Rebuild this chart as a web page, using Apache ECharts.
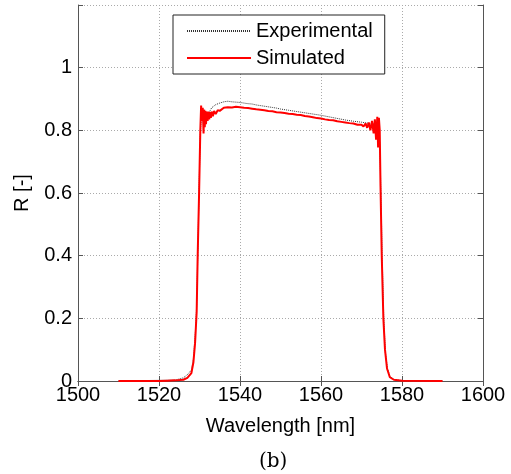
<!DOCTYPE html>
<html><head><meta charset="utf-8">
<script src="https://cdn.jsdelivr.net/npm/echarts@6/dist/echarts.min.js"></script>
<style>html,body{margin:0;padding:0;background:#fff}#c{width:511px;height:474px}</style>
</head><body><div id="c"></div>
<script>
var xTicks = [1500, 1520, 1540, 1560, 1580, 1600];
var yTicks = [0, 0.2, 0.4, 0.6, 0.8, 1];

var simWl = [1510,1520,1522,1524,1526,1527,1528,1528.5,1528.9,1529.1,1529.3,1529.55,1529.9,1530.2,1530.4,
  1530.6,1530.8,1531.0,1531.15,1531.3,1531.45,1531.6,1531.8,1532.0,1532.2,1532.4,1532.6,1532.8,1533.0,1533.3,1533.6,1534.0,1534.5,1535,
  1536,1537,1538,1539,1540,1541,1542,1543,1544,1545,1546,1547,1548,1549,1550,1551,1552,1553,1554,1555,1556,1557,1558,1559,1560,
  1561,1562,1563,1564,1565,1566,1567,1568,1569,1570,1570.5,1571,1571.4,1571.8,1572.2,1572.6,1573.0,1573.3,1573.6,1573.9,1574.1,1574.3,1574.5,
  1574.7,1575.0,1575.4,1575.8,1576.3,1577,1578,1580,1590];
var simR = [0,0,0.001,0.002,0.004,0.01,0.025,0.06,0.12,0.17,0.22,0.4,0.6,0.8,0.879,
  0.83,0.872,0.79,0.866,0.81,0.862,0.82,0.86,0.83,0.86,0.835,0.858,0.84,0.86,0.845,0.862,0.852,0.864,0.862,
  0.872,0.874,0.873,0.875,0.874,0.872,0.871,0.869,0.867,0.866,0.864,0.862,0.861,0.858,0.857,0.855,0.853,0.852,0.850,0.849,0.846,0.844,0.842,0.839,0.838,
  0.835,0.833,0.832,0.829,0.827,0.825,0.823,0.822,0.818,0.818,0.812,0.822,0.808,0.825,0.800,0.83,0.79,0.835,0.77,0.843,0.745,0.84,0.80,
  0.62,0.4,0.2,0.1,0.04,0.012,0.004,0.001,0];

var expWl = [1510,1524,1526,1527,1528,1528.5,1529,1529.3,1529.6,1529.9,1530.2,1530.5,1531,1531.5,1532,1532.5,1533,1534,1535,1536,1537,1538,1539,1540,
  1541,1542,1543,1544,1545,1546,1547,1548,1549,1550,1552,1554,1556,1558,1560,1562,1564,1566,1568,1570,1572,1573,1574,1574.5,1574.8,1575.1,1575.5,1575.9,1576.4,1577,1578,1580,1590];
var expR = [0,0.003,0.01,0.02,0.035,0.07,0.16,0.24,0.42,0.62,0.79,0.845,0.83,0.845,0.85,0.86,0.872,0.882,0.887,0.891,0.893,0.891,0.890,0.889,
  0.887,0.885,0.884,0.881,0.879,0.877,0.875,0.873,0.871,0.868,0.864,0.860,0.856,0.852,0.848,0.843,0.838,0.833,0.829,0.826,0.822,0.82,0.815,0.76,0.6,0.4,0.2,0.09,0.04,0.015,0.005,0.001,0];

function pairs(xs, ys){ return xs.map(function(x,i){ return [x, ys[i]]; }); }

var font = 'Liberation Sans';
var chart = echarts.init(document.getElementById('c'), null, {renderer:'canvas'});
chart.setOption({
  animation:false,
  backgroundColor:'#fff',
  grid:{left:78, top:5, width:405, height:376, containLabel:false},
  legend:{
    left:173, top:15, orient:'vertical',
    data:['Experimental','Simulated'],
    backgroundColor:'#fff', borderColor:'#222', borderWidth:1,
    padding:[6,12,6,13], itemWidth:64, itemHeight:18, itemGap:7,
    itemStyle:{opacity:0},
    textStyle:{fontFamily:font, fontSize:20, color:'#000', lineHeight:18}
  },
  xAxis:[{
    type:'value', min:1500, max:1600, interval:20,
    name:'Wavelength [nm]', nameLocation:'middle', nameGap:35,
    nameTextStyle:{fontFamily:font, fontSize:20, color:'#000'},
    axisLine:{show:true, lineStyle:{color:'#555', width:1}},
    axisTick:{show:true, inside:true, length:5, lineStyle:{color:'#555'}},
    axisLabel:{fontFamily:font, fontSize:20, color:'#000', margin:4,
      formatter:function(v){ return xTicks.indexOf(v)>=0 ? String(v) : ''; }},
    splitLine:{show:true, lineStyle:{color:'#aaa', type:[1,2], width:1}}
  },{
    type:'value', min:1500, max:1600, interval:20, position:'top',
    axisLine:{show:true, lineStyle:{color:'#555', width:1}},
    axisTick:{show:true, inside:true, length:5, lineStyle:{color:'#555'}},
    axisLabel:{show:false}, splitLine:{show:false}
  }],
  yAxis:[{
    type:'value', min:0, max:1.2, interval:0.2,
    name:'R [-]', nameLocation:'middle', nameGap:46,
    nameTextStyle:{fontFamily:font, fontSize:20, color:'#000'},
    axisLine:{show:true, lineStyle:{color:'#555', width:1}},
    axisTick:{show:true, inside:true, length:5, lineStyle:{color:'#555'}},
    axisLabel:{fontFamily:font, fontSize:20, color:'#000', margin:6,
      formatter:function(v){ var r=Math.round(v*10)/10; return yTicks.indexOf(r)>=0 ? String(r) : ''; }},
    splitLine:{show:true, lineStyle:{color:'#aaa', type:[1,2], width:1}}
  },{
    type:'value', min:0, max:1.2, interval:0.2, position:'right',
    axisLine:{show:true, lineStyle:{color:'#555', width:1}},
    axisTick:{show:true, inside:true, length:5, lineStyle:{color:'#555'}},
    axisLabel:{show:false}, splitLine:{show:false}
  }],
  series:[{
    name:'Experimental', type:'line', symbol:'none', data:pairs(expWl, expR),
    lineStyle:{color:'#333', width:1, type:[1,1]}, itemStyle:{color:'#333'}, z:2
  },{
    name:'Simulated', type:'line', symbol:'none', data:pairs(simWl, simR),
    lineStyle:{color:'#ff0000', width:2}, itemStyle:{color:'#ff0000'}, z:3
  }],
  graphic:[{
    type:'text', left:259, top:452,
    style:{text:'(b)', font:'20px "DejaVu Serif"', fill:'#000'}
  }]
});
</script></body></html>
